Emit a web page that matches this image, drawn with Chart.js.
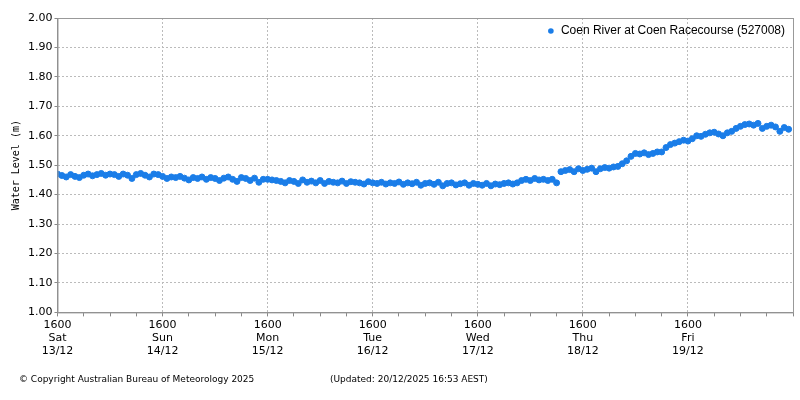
<!DOCTYPE html>
<html>
<head>
<meta charset="utf-8">
<script src="https://cdn.jsdelivr.net/npm/chart.js@4"></script>
<style>
  html, body { margin: 0; padding: 0; background: #fff; }
  #wrap { width: 800px; height: 400px; }
</style>
</head>
<body>
<div id="wrap"><canvas id="chart" width="800" height="400"></canvas></div>
<script>
// hours since Sat 13/12 16:00, one reading per hour
const seriesName = 'Coen River at Coen Racecourse (527008)';
const dayLabels = [['1600', 'Sat', '13/12'], ['1600', 'Sun', '14/12'], ['1600', 'Mon', '15/12'],
  ['1600', 'Tue', '16/12'], ['1600', 'Wed', '17/12'], ['1600', 'Thu', '18/12'], ['1600', 'Fri', '19/12']];
const yTicks = [1.0, 1.1, 1.2, 1.3, 1.4, 1.5, 1.6, 1.7, 1.8, 1.9, 2.0];
const levels = [
  1.470,1.465,1.460,1.468,1.462,1.458,1.466,1.470,1.464,1.468,1.472,1.466,1.470,1.468,1.462,1.470,1.466,1.455,1.468,1.472,1.466,1.460,1.470,1.468,
  1.462,1.455,1.460,1.458,1.462,1.456,1.450,1.458,1.455,1.460,1.452,1.458,1.455,1.448,1.456,1.460,1.452,1.445,1.458,1.455,1.448,1.456,1.442,1.452,
  1.452,1.450,1.448,1.445,1.440,1.448,1.445,1.438,1.450,1.442,1.446,1.440,1.448,1.438,1.445,1.442,1.440,1.446,1.438,1.444,1.442,1.440,1.436,1.444,
  1.440,1.438,1.442,1.436,1.440,1.438,1.443,1.435,1.440,1.437,1.442,1.432,1.438,1.440,1.435,1.442,1.430,1.438,1.440,1.433,1.437,1.440,1.432,1.438,
  1.435,1.432,1.438,1.430,1.436,1.434,1.438,1.440,1.436,1.440,1.448,1.452,1.448,1.455,1.450,1.452,1.448,1.452,1.440,1.478,1.482,1.485,1.478,1.488,
  1.482,1.486,1.490,1.478,1.488,1.492,1.490,1.494,1.496,1.505,1.515,1.530,1.540,1.538,1.542,1.536,1.540,1.545,1.545,1.560,1.570,1.575,1.580,1.585,
  1.582,1.590,1.600,1.598,1.605,1.610,1.612,1.606,1.600,1.610,1.615,1.625,1.632,1.638,1.640,1.636,1.642,1.625,1.632,1.636,1.630,1.615,1.628,1.622
];

const font = "'DejaVu Sans', Verdana, sans-serif";
const blue = '#1a7de8';

const extras = {
  id: 'extras',
  afterDraw(chart) {
    const { ctx, chartArea: a } = chart;
    ctx.save();
    ctx.strokeStyle = '#999';
    ctx.lineWidth = 1;
    ctx.strokeRect(a.left + 0.5, a.top + 0.5, a.right - a.left, a.bottom - a.top);
    // legend
    ctx.font = '12px "Liberation Sans", Arial, sans-serif';
    ctx.textBaseline = 'middle';
    ctx.textAlign = 'right';
    const w = ctx.measureText(seriesName).width;
    ctx.fillStyle = blue;
    ctx.beginPath();
    ctx.arc(785 - w - 10, 31, 2.8, 0, Math.PI * 2);
    ctx.fill();
    ctx.fillStyle = '#000';
    ctx.fillText(seriesName, 785, 31);
    // footer
    ctx.textAlign = 'left';
    ctx.font = '9px ' + font;
    ctx.fillText('\u00a9 Copyright Australian Bureau of Meteorology 2025', 19, 380);
    ctx.fillText('(Updated: 20/12/2025 16:53 AEST)', 330, 380);
    ctx.restore();
  }
};

new Chart(document.getElementById('chart'), {
  type: 'scatter',
  data: {
    datasets: [{
      label: seriesName,
      data: levels.map((v, i) => ({ x: i, y: v })),
      backgroundColor: blue,
      borderColor: blue,
      pointRadius: 3,
      pointHoverRadius: 3
    }]
  },
  options: {
    responsive: false,
    animation: false,
    layout: { padding: { top: 18, right: 7, bottom: 40, left: 6 } },
    plugins: { legend: { display: false }, tooltip: { enabled: false } },
    scales: {
      x: {
        type: 'linear',
        min: 0, max: 168,
        ticks: {
          stepSize: 6, autoSkip: false, maxRotation: 0, color: '#000',
          font: { family: font, size: 11 }, padding: 2,
          callback: v => (v % 24 === 0 && dayLabels[v / 24]) ? dayLabels[v / 24] : ''
        },
        grid: {
          color: c => (c.tick && c.tick.value % 24 === 0 && c.tick.value > 0 && c.tick.value < 168) ? '#bbb' : 'rgba(0,0,0,0)',
          tickColor: '#888', tickLength: 4
        },
        border: { color: '#888', dash: [2, 2] }
      },
      y: {
        min: 1.0, max: 2.0,
        afterBuildTicks: s => { s.ticks = yTicks.map(v => ({ value: v })); },
        ticks: { color: '#000', font: { family: font, size: 11 }, callback: v => Number(v).toFixed(2), padding: 2 },
        grid: { color: '#bbb', tickColor: '#888', tickLength: 3 },
        border: { color: '#888', dash: [2, 2] },
        title: { display: true, text: 'Water Level (m)', color: '#000', font: { family: "'DejaVu Sans Mono', monospace", size: 10 }, padding: 4 }
      }
    }
  },
  plugins: [extras]
});
</script>
</body>
</html>
